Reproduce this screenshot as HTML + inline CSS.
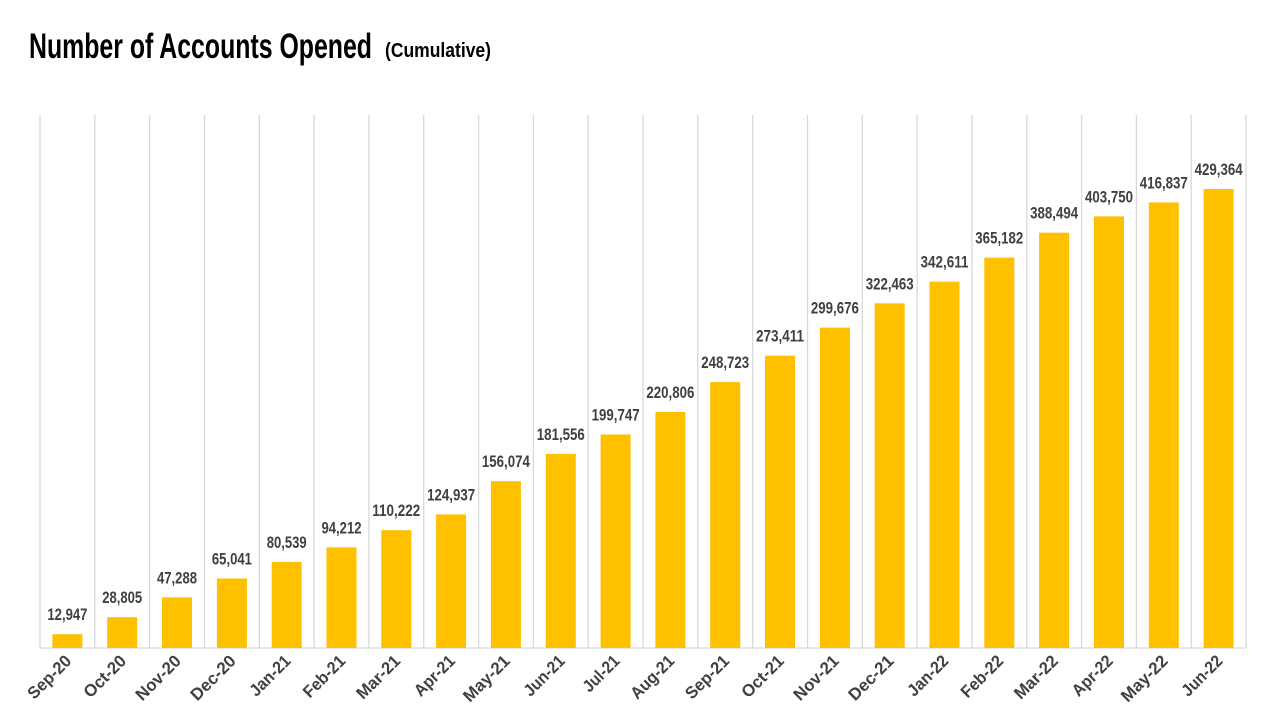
<!DOCTYPE html>
<html><head><meta charset="utf-8"><style>
html,body{margin:0;padding:0;background:#fff;}
svg{display:block;}
.v{font:bold 17px "Liberation Sans",sans-serif;fill:#404040;text-anchor:middle;}
.x{font:bold 17px "Liberation Sans",sans-serif;fill:#404040;text-anchor:end;}
</style></head><body>
<svg width="1280" height="720" viewBox="0 0 1280 720" xmlns="http://www.w3.org/2000/svg">
<text x="29" y="58" font-family="Liberation Sans" font-weight="bold" font-size="35" fill="#000" textLength="343" lengthAdjust="spacingAndGlyphs">Number of Accounts Opened</text>
<text x="385" y="57" font-family="Liberation Sans" font-weight="bold" font-size="20" fill="#000" textLength="106" lengthAdjust="spacingAndGlyphs">(Cumulative)</text>
<g stroke="#d9d9d9" stroke-width="1.3">
<line x1="40" y1="115" x2="40" y2="648"/><line x1="94.8" y1="115" x2="94.8" y2="648"/><line x1="149.6" y1="115" x2="149.6" y2="648"/><line x1="204.5" y1="115" x2="204.5" y2="648"/><line x1="259.3" y1="115" x2="259.3" y2="648"/><line x1="314.1" y1="115" x2="314.1" y2="648"/><line x1="368.9" y1="115" x2="368.9" y2="648"/><line x1="423.7" y1="115" x2="423.7" y2="648"/><line x1="478.6" y1="115" x2="478.6" y2="648"/><line x1="533.4" y1="115" x2="533.4" y2="648"/><line x1="588.2" y1="115" x2="588.2" y2="648"/><line x1="643" y1="115" x2="643" y2="648"/><line x1="697.8" y1="115" x2="697.8" y2="648"/><line x1="752.7" y1="115" x2="752.7" y2="648"/><line x1="807.5" y1="115" x2="807.5" y2="648"/><line x1="862.3" y1="115" x2="862.3" y2="648"/><line x1="917.1" y1="115" x2="917.1" y2="648"/><line x1="971.9" y1="115" x2="971.9" y2="648"/><line x1="1026.8" y1="115" x2="1026.8" y2="648"/><line x1="1081.6" y1="115" x2="1081.6" y2="648"/><line x1="1136.4" y1="115" x2="1136.4" y2="648"/><line x1="1191.2" y1="115" x2="1191.2" y2="648"/><line x1="1246" y1="115" x2="1246" y2="648"/>
<line x1="40" y1="648" x2="1246" y2="648"/>
</g>
<g fill="#FFC000">
<rect x="52.4" y="634.2" width="30" height="13.8"/><rect x="107.2" y="617.2" width="30" height="30.8"/><rect x="162" y="597.4" width="30" height="50.6"/><rect x="216.9" y="578.5" width="30" height="69.5"/><rect x="271.7" y="561.9" width="30" height="86.1"/><rect x="326.5" y="547.3" width="30" height="100.7"/><rect x="381.3" y="530.2" width="30" height="117.8"/><rect x="436.1" y="514.4" width="30" height="133.6"/><rect x="490.9" y="481.2" width="30" height="166.8"/><rect x="545.8" y="453.9" width="30" height="194.1"/><rect x="600.6" y="434.5" width="30" height="213.5"/><rect x="655.4" y="412" width="30" height="236"/><rect x="710.2" y="382.1" width="30" height="265.9"/><rect x="765" y="355.7" width="30" height="292.3"/><rect x="819.9" y="327.6" width="30" height="320.4"/><rect x="874.7" y="303.3" width="30" height="344.7"/><rect x="929.5" y="281.7" width="30" height="366.3"/><rect x="984.3" y="257.6" width="30" height="390.4"/><rect x="1039.1" y="232.7" width="30" height="415.3"/><rect x="1094" y="216.4" width="30" height="431.6"/><rect x="1148.8" y="202.4" width="30" height="445.6"/><rect x="1203.6" y="189" width="30" height="459"/>
</g>
<g class="v">
<text x="67.4" y="620.2" textLength="40" lengthAdjust="spacingAndGlyphs">12,947</text>
<text x="122.2" y="603.2" textLength="40" lengthAdjust="spacingAndGlyphs">28,805</text>
<text x="177" y="583.4" textLength="40" lengthAdjust="spacingAndGlyphs">47,288</text>
<text x="231.9" y="564.5" textLength="40" lengthAdjust="spacingAndGlyphs">65,041</text>
<text x="286.7" y="547.9" textLength="40" lengthAdjust="spacingAndGlyphs">80,539</text>
<text x="341.5" y="533.3" textLength="40" lengthAdjust="spacingAndGlyphs">94,212</text>
<text x="396.3" y="516.2" textLength="48" lengthAdjust="spacingAndGlyphs">110,222</text>
<text x="451.1" y="500.4" textLength="48" lengthAdjust="spacingAndGlyphs">124,937</text>
<text x="505.9" y="467.2" textLength="48" lengthAdjust="spacingAndGlyphs">156,074</text>
<text x="560.8" y="439.9" textLength="48" lengthAdjust="spacingAndGlyphs">181,556</text>
<text x="615.6" y="420.5" textLength="48" lengthAdjust="spacingAndGlyphs">199,747</text>
<text x="670.4" y="398" textLength="48" lengthAdjust="spacingAndGlyphs">220,806</text>
<text x="725.2" y="368.1" textLength="48" lengthAdjust="spacingAndGlyphs">248,723</text>
<text x="780" y="341.7" textLength="48" lengthAdjust="spacingAndGlyphs">273,411</text>
<text x="834.9" y="313.6" textLength="48" lengthAdjust="spacingAndGlyphs">299,676</text>
<text x="889.7" y="289.3" textLength="48" lengthAdjust="spacingAndGlyphs">322,463</text>
<text x="944.5" y="267.7" textLength="48" lengthAdjust="spacingAndGlyphs">342,611</text>
<text x="999.3" y="243.6" textLength="48" lengthAdjust="spacingAndGlyphs">365,182</text>
<text x="1054.1" y="218.7" textLength="48" lengthAdjust="spacingAndGlyphs">388,494</text>
<text x="1109" y="202.4" textLength="48" lengthAdjust="spacingAndGlyphs">403,750</text>
<text x="1163.8" y="188.4" textLength="48" lengthAdjust="spacingAndGlyphs">416,837</text>
<text x="1218.6" y="175" textLength="48" lengthAdjust="spacingAndGlyphs">429,364</text>
</g>
<g class="x">
<text transform="translate(72.4,662) rotate(-45)" textLength="54" lengthAdjust="spacingAndGlyphs">Sep-20</text>
<text transform="translate(127.2,662) rotate(-45)" textLength="52" lengthAdjust="spacingAndGlyphs">Oct-20</text>
<text transform="translate(182,662) rotate(-45)" textLength="56" lengthAdjust="spacingAndGlyphs">Nov-20</text>
<text transform="translate(236.9,662) rotate(-45)" textLength="56" lengthAdjust="spacingAndGlyphs">Dec-20</text>
<text transform="translate(291.7,662) rotate(-45)" textLength="50" lengthAdjust="spacingAndGlyphs">Jan-21</text>
<text transform="translate(346.5,662) rotate(-45)" textLength="52" lengthAdjust="spacingAndGlyphs">Feb-21</text>
<text transform="translate(401.3,662) rotate(-45)" textLength="54" lengthAdjust="spacingAndGlyphs">Mar-21</text>
<text transform="translate(456.1,662) rotate(-45)" textLength="50" lengthAdjust="spacingAndGlyphs">Apr-21</text>
<text transform="translate(510.9,662) rotate(-45)" textLength="58" lengthAdjust="spacingAndGlyphs">May-21</text>
<text transform="translate(565.8,662) rotate(-45)" textLength="50" lengthAdjust="spacingAndGlyphs">Jun-21</text>
<text transform="translate(620.6,662) rotate(-45)" textLength="44" lengthAdjust="spacingAndGlyphs">Jul-21</text>
<text transform="translate(675.4,662) rotate(-45)" textLength="54" lengthAdjust="spacingAndGlyphs">Aug-21</text>
<text transform="translate(730.2,662) rotate(-45)" textLength="54" lengthAdjust="spacingAndGlyphs">Sep-21</text>
<text transform="translate(785,662) rotate(-45)" textLength="52" lengthAdjust="spacingAndGlyphs">Oct-21</text>
<text transform="translate(839.9,662) rotate(-45)" textLength="56" lengthAdjust="spacingAndGlyphs">Nov-21</text>
<text transform="translate(894.7,662) rotate(-45)" textLength="56" lengthAdjust="spacingAndGlyphs">Dec-21</text>
<text transform="translate(949.5,662) rotate(-45)" textLength="50" lengthAdjust="spacingAndGlyphs">Jan-22</text>
<text transform="translate(1004.3,662) rotate(-45)" textLength="52" lengthAdjust="spacingAndGlyphs">Feb-22</text>
<text transform="translate(1059.1,662) rotate(-45)" textLength="54" lengthAdjust="spacingAndGlyphs">Mar-22</text>
<text transform="translate(1114,662) rotate(-45)" textLength="50" lengthAdjust="spacingAndGlyphs">Apr-22</text>
<text transform="translate(1168.8,662) rotate(-45)" textLength="58" lengthAdjust="spacingAndGlyphs">May-22</text>
<text transform="translate(1223.6,662) rotate(-45)" textLength="50" lengthAdjust="spacingAndGlyphs">Jun-22</text>
</g>
</svg>
</body></html>
